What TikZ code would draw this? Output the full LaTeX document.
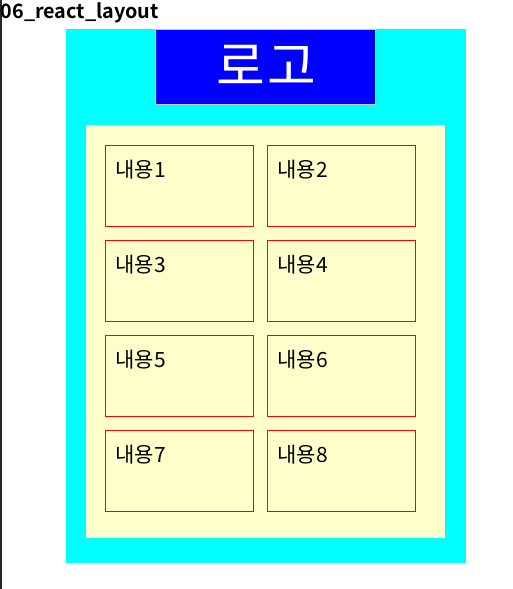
\documentclass[tikz,border=0pt]{standalone}
\usepackage{fontspec}
\setmainfont{Noto Sans CJK KR}
\newfontfamily\titlefont{Noto Sans CJK KR}[BoldFont={* Bold}]
\newfontfamily\logofont{Noto Sans CJK KR}[LetterSpace=4]
\definecolor{pagecyan}{HTML}{00FFFF}
\definecolor{logoblue}{HTML}{0000FF}
\definecolor{paneyellow}{HTML}{FFFFCC}
\definecolor{logoline}{HTML}{C8C8C8}
\begin{document}
\begin{tikzpicture}[x=1pt,y=-1pt]
    \tikzset{cell/.style={draw=red,fill=paneyellow,line width=1pt},
             celltext/.style={anchor=base west,inner sep=0pt,font=\fontsize{21}{24}\selectfont}};
    \useasboundingbox[fill=white] (0,0) rectangle (513,589);
    \draw[line width=1.5pt,black!85] (0.75,0) -- (0.75,589);
    \node[anchor=base west,inner sep=0pt,font=\titlefont\bfseries\fontsize{19.8}{22}\selectfont] (title) at (0.5,19) {06\_react\_layout};
    \fill[pagecyan] (66,29) rectangle (466,562.5);
    \draw[fill=logoblue,draw=logoline,line width=0.8pt] (155.5,29) rectangle (375.5,104);
    \node[text=white,font=\logofont\fontsize{53}{56}\selectfont,anchor=base] (logo) at (266.5,85.5) {로고};
    \fill[paneyellow] (86,125) rectangle (445,537.5);
    \draw[cell] (105.5,145.5) rectangle (253,226) node[celltext] (c1) at (115,177.5) {내용1};
    \draw[cell] (267.5,145.5) rectangle (415,226) node[celltext] (c2) at (277,177.5) {내용2};
    \draw[cell] (105.5,240.5) rectangle (253,321) node[celltext] (c3) at (115,272.5) {내용3};
    \draw[cell] (267.5,240.5) rectangle (415,321) node[celltext] (c4) at (277,272.5) {내용4};
    \draw[cell] (105.5,335.5) rectangle (253,416) node[celltext] (c5) at (115,367.5) {내용5};
    \draw[cell] (267.5,335.5) rectangle (415,416) node[celltext] (c6) at (277,367.5) {내용6};
    \draw[cell] (105.5,430.5) rectangle (253,511) node[celltext] (c7) at (115,462.5) {내용7};
    \draw[cell] (267.5,430.5) rectangle (415,511) node[celltext] (c8) at (277,462.5) {내용8};
\end{tikzpicture}
\end{document}
